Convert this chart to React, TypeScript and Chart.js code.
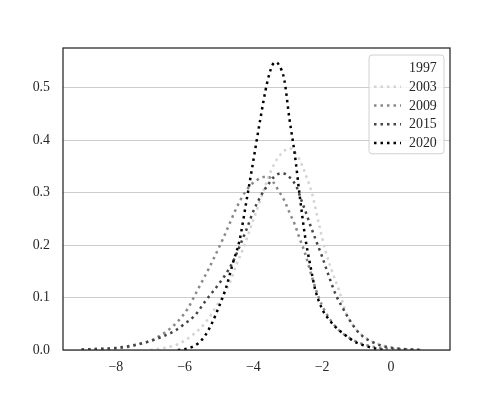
import React, { useEffect, useRef } from "react";
import { Chart, registerables } from "chart.js";

Chart.register(...registerables);

const SERIES_NAMES = ["1997", "2003", "2009", "2015", "2020"];
const SERIES_COLORS = ["#ffffff", "#d3d3d3", "#888888", "#454545", "#000000"];

const X_TICKS = [-8, -6, -4, -2, 0];
const Y_TICKS = [0, 0.1, 0.2, 0.3, 0.4, 0.5];

const x1997: number[] = [];
const y1997: number[] = [];

const x2003 = [-7.0, -6.6, -6.2, -5.8, -5.4, -5.0, -4.7, -4.5, -4.3, -4.1, -3.9, -3.7, -3.5, -3.3, -3.1, -2.95, -2.8, -2.65, -2.5, -2.3, -2.1, -1.9, -1.7, -1.5, -1.3, -1.1, -0.9, -0.6, -0.3, 0.0, 0.4];
const y2003 = [0.0, 0.004, 0.011, 0.027, 0.052, 0.092, 0.126, 0.162, 0.193, 0.23, 0.267, 0.305, 0.34, 0.365, 0.38, 0.385, 0.378, 0.362, 0.338, 0.3, 0.242, 0.188, 0.148, 0.112, 0.07, 0.047, 0.032, 0.018, 0.01, 0.005, 0.0];

const x2009 = [-9.0, -8.5, -8.0, -7.6, -7.3, -7.0, -6.7, -6.4, -6.1, -5.9, -5.7, -5.5, -5.3, -5.1, -4.9, -4.7, -4.5, -4.3, -4.1, -3.9, -3.7, -3.55, -3.4, -3.25, -3.1, -2.95, -2.8, -2.65, -2.5, -2.3, -2.1, -1.9, -1.7, -1.5, -1.3, -1.0, -0.7, -0.4, 0.0, 0.5, 0.9];
const y2009 = [0.001, 0.002, 0.003, 0.006, 0.012, 0.017, 0.028, 0.042, 0.062, 0.08, 0.105, 0.13, 0.155, 0.182, 0.21, 0.24, 0.27, 0.295, 0.313, 0.324, 0.33, 0.33, 0.318, 0.302, 0.285, 0.262, 0.24, 0.212, 0.185, 0.14, 0.1, 0.072, 0.052, 0.037, 0.027, 0.016, 0.009, 0.005, 0.002, 0.001, 0.0];

const x2015 = [-9.0, -8.5, -8.0, -7.5, -7.0, -6.6, -6.3, -6.0, -5.7, -5.4, -5.1, -4.8, -4.6, -4.4, -4.2, -4.0, -3.8, -3.6, -3.4, -3.2, -3.05, -2.9, -2.75, -2.6, -2.45, -2.3, -2.15, -2.0, -1.8, -1.6, -1.4, -1.2, -1.0, -0.8, -0.5, -0.2, 0.2, 0.6, 0.9];
const y2015 = [0.001, 0.002, 0.004, 0.009, 0.017, 0.027, 0.036, 0.05, 0.066, 0.093, 0.118, 0.145, 0.168, 0.198, 0.23, 0.265, 0.292, 0.313, 0.33, 0.337, 0.335, 0.326, 0.312, 0.285, 0.258, 0.23, 0.204, 0.178, 0.14, 0.105, 0.08, 0.057, 0.038, 0.025, 0.014, 0.007, 0.003, 0.001, 0.0];

const x2020 = [-6.2, -5.9, -5.6, -5.4, -5.2, -5.0, -4.8, -4.6, -4.4, -4.2, -4.0, -3.8, -3.6, -3.45, -3.35, -3.25, -3.1, -2.95, -2.8, -2.65, -2.5, -2.35, -2.2, -2.0, -1.8, -1.6, -1.4, -1.2, -1.0, -0.8, -0.6, -0.4, -0.2];
const y2020 = [0.0, 0.003, 0.013, 0.028, 0.052, 0.083, 0.118, 0.165, 0.21, 0.285, 0.362, 0.44, 0.51, 0.543, 0.549, 0.543, 0.515, 0.44, 0.375, 0.293, 0.218, 0.163, 0.115, 0.078, 0.058, 0.043, 0.032, 0.022, 0.014, 0.009, 0.005, 0.002, 0.0];

const SERIES_X = [x1997, x2003, x2009, x2015, x2020];
const SERIES_Y = [y1997, y2003, y2009, y2015, y2020];

const X_MIN = -9.54;
const X_MAX = 1.72;
const Y_MIN = 0;
const Y_MAX = 0.576;

const FONT_FAMILY = "'Liberation Serif', 'Times New Roman', serif";
const FONT_SIZE = 13.9;
const TEXT_COLOR = "#262626";
const DASH = [2.5, 4];

const frameAndLegend = {
  id: "frameAndLegend",
  afterDraw(chart: any) {
    const { ctx, chartArea } = chart;
    ctx.save();
    // frame
    ctx.strokeStyle = "#262626";
    ctx.lineWidth = 1.25;
    ctx.setLineDash([]);
    ctx.strokeRect(chartArea.left, chartArea.top, chartArea.right - chartArea.left, chartArea.bottom - chartArea.top);

    // legend
    const boxRight = chartArea.right - 6;
    const boxW = 75;
    const boxLeft = boxRight - boxW;
    const boxTop = chartArea.top + 7;
    const rowH = 18.75;
    const boxH = rowH * SERIES_NAMES.length + 5;
    const r = 3;
    ctx.beginPath();
    ctx.moveTo(boxLeft + r, boxTop);
    ctx.lineTo(boxRight - r, boxTop);
    ctx.arcTo(boxRight, boxTop, boxRight, boxTop + r, r);
    ctx.lineTo(boxRight, boxTop + boxH - r);
    ctx.arcTo(boxRight, boxTop + boxH, boxRight - r, boxTop + boxH, r);
    ctx.lineTo(boxLeft + r, boxTop + boxH);
    ctx.arcTo(boxLeft, boxTop + boxH, boxLeft, boxTop + boxH - r, r);
    ctx.lineTo(boxLeft, boxTop + r);
    ctx.arcTo(boxLeft, boxTop, boxLeft + r, boxTop, r);
    ctx.closePath();
    ctx.fillStyle = "rgba(255,255,255,0.8)";
    ctx.fill();
    ctx.strokeStyle = "#d0d0d0";
    ctx.lineWidth = 1;
    ctx.stroke();

    ctx.font = `${FONT_SIZE}px ${FONT_FAMILY}`;
    ctx.textBaseline = "middle";
    ctx.textAlign = "left";
    SERIES_NAMES.forEach((name, i) => {
      const cy = boxTop + 13 + i * rowH;
      ctx.beginPath();
      ctx.setLineDash(DASH);
      ctx.lineCap = "butt";
      ctx.strokeStyle = SERIES_COLORS[i];
      ctx.lineWidth = 2.5;
      ctx.moveTo(boxLeft + 5, cy);
      ctx.lineTo(boxLeft + 32, cy);
      ctx.stroke();
      ctx.setLineDash([]);
      ctx.fillStyle = TEXT_COLOR;
      ctx.fillText(name, boxLeft + 40, cy + 0.5);
    });
    ctx.restore();
  },
};

export default function App() {
  const canvasRef = useRef<HTMLCanvasElement | null>(null);

  useEffect(() => {
    const canvas = canvasRef.current;
    if (!canvas) return;
    const datasets = SERIES_NAMES.map((name, i) => ({
      label: name,
      data: SERIES_X[i].map((x, j) => ({ x, y: SERIES_Y[i][j] })),
      borderColor: SERIES_COLORS[i],
      backgroundColor: SERIES_COLORS[i],
      borderWidth: 2.5,
      borderDash: DASH,
      borderCapStyle: "butt" as const,
      pointRadius: 0,
      fill: false,
      cubicInterpolationMode: "monotone" as const,
      order: SERIES_NAMES.length - i,
    }));

    const chart = new Chart(canvas, {
      type: "line",
      data: { datasets },
      options: {
        animation: false,
        responsive: false,
        devicePixelRatio: 1,
        layout: { padding: { left: 0, right: 50, top: 48, bottom: 0 } },
        plugins: { legend: { display: false }, tooltip: { enabled: false } },
        scales: {
          x: {
            type: "linear",
            min: X_MIN,
            max: X_MAX,
            afterBuildTicks: (scale: any) => {
              scale.ticks = X_TICKS.map((v) => ({ value: v }));
            },
            afterFit: (scale: any) => {
              scale.height = 50;
            },
            grid: { display: false, drawTicks: false, tickLength: 0 },
            border: { display: false },
            ticks: {
              padding: 9,
              color: TEXT_COLOR,
              font: { family: FONT_FAMILY, size: FONT_SIZE },
              maxRotation: 0,
              callback: (v: any) => (Number(v) < 0 ? "\u2212" + Math.abs(Number(v)) : String(v)),
            },
          },
          y: {
            type: "linear",
            min: Y_MIN,
            max: Y_MAX,
            afterBuildTicks: (scale: any) => {
              scale.ticks = Y_TICKS.map((v) => ({ value: v }));
            },
            afterFit: (scale: any) => {
              scale.width = 63;
            },
            grid: { display: true, color: "#cccccc", lineWidth: 1, drawTicks: false, tickLength: 0 },
            border: { display: false },
            ticks: {
              padding: 13,
              color: TEXT_COLOR,
              font: { family: FONT_FAMILY, size: FONT_SIZE },
              callback: (v: any) => Number(v).toFixed(1),
            },
          },
        },
      },
      plugins: [frameAndLegend],
    });
    return () => chart.destroy();
  }, []);

  return (
    <div style={{ position: "absolute", left: 0, top: 0, width: 500, height: 400, background: "#ffffff" }}>
      <canvas ref={canvasRef} width={500} height={400} style={{ display: "block" }} />
    </div>
  );
}
